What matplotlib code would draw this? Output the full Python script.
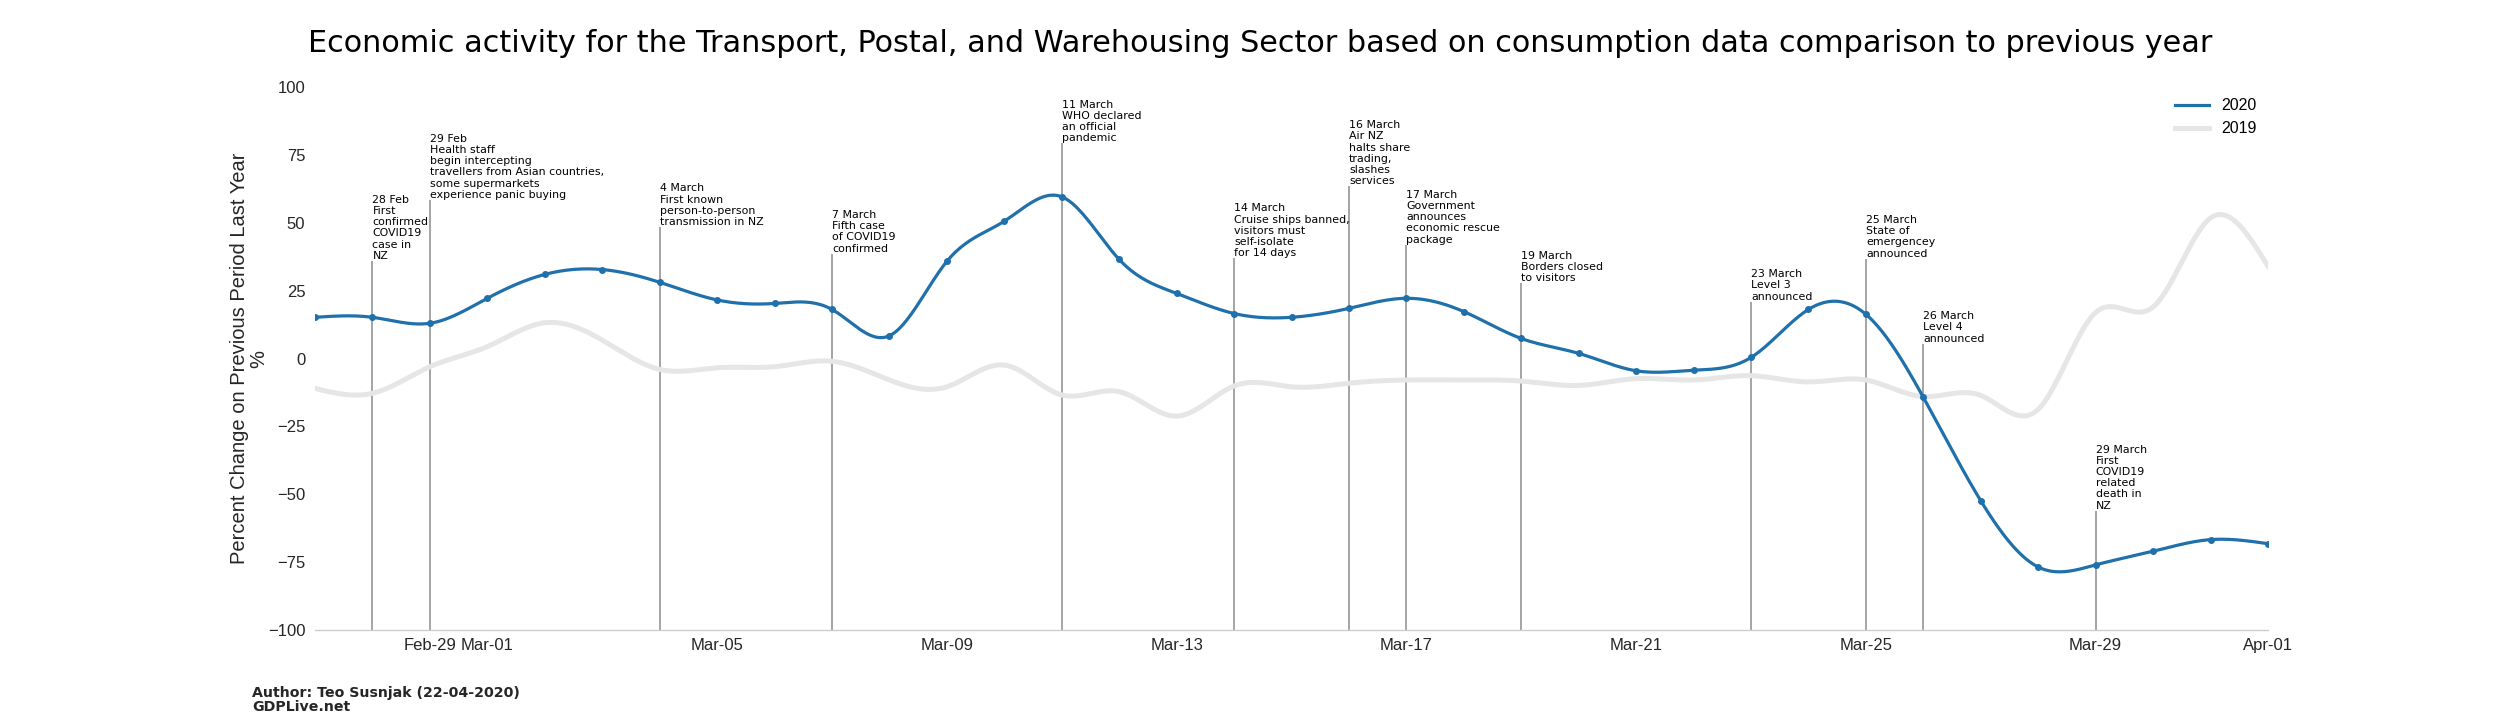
import numpy as np
import pandas as pd
import matplotlib
matplotlib.use("Agg")
import matplotlib.pyplot as plt
import matplotlib.dates as mdates

# daily values (Feb 27 -> Apr 01, 2020)
dates = pd.date_range("2020-02-27", "2020-04-01", freq="D")

values_2020 = [15.2, 15.2, 13.0, 22.2, 31.0, 32.8, 28.1, 21.6, 20.3, 18.1,
               8.4, 35.8, 50.6, 59.6, 36.5, 24.0, 16.6, 15.2, 18.5, 22.2,
               17.3, 7.4, 1.9, -4.5, -4.3, 0.4, 18.1, 16.3, -14.3, -52.4,
               -76.8, -76.0, -71.0, -66.7, -68.2]

values_2019 = [-11.0, -12.8, -3.0, 4.4, 13.2, 6.8, -4.0, -3.4, -3.0, -1.0,
               -7.9, -10.4, -2.4, -13.4, -12.2, -21.2, -10.1, -10.4, -9.1, -7.9,
               -7.9, -8.3, -9.9, -7.4, -7.9, -6.3, -8.6, -7.9, -14.0, -13.6,
               -18.7, 17.0, 19.0, 51.8, 34.0]

# events: date, height where the text sits, text
event_dates = ["2020-02-28", "2020-02-29", "2020-03-04", "2020-03-07", "2020-03-11",
               "2020-03-14", "2020-03-16", "2020-03-17", "2020-03-19", "2020-03-23",
               "2020-03-25", "2020-03-26", "2020-03-29"]
event_heights = [36, 58.5, 48.5, 38.7, 79.3, 37, 63.5, 42, 27.7, 21, 36.8, 5.5, -56]
event_texts = [
    "28 Feb\nFirst\nconfirmed\nCOVID19\ncase in\nNZ",
    "29 Feb\nHealth staff\nbegin intercepting\ntravellers from Asian countries,\nsome supermarkets\nexperience panic buying",
    "4 March\nFirst known\nperson-to-person\ntransmission in NZ",
    "7 March\nFifth case\nof COVID19\nconfirmed",
    "11 March\nWHO declared\nan official\npandemic",
    "14 March\nCruise ships banned,\nvisitors must\nself-isolate\nfor 14 days",
    "16 March\nAir NZ\nhalts share\ntrading,\nslashes\nservices",
    "17 March\nGovernment\nannounces\neconomic rescue\npackage",
    "19 March\nBorders closed\nto visitors",
    "23 March\nLevel 3\nannounced",
    "25 March\nState of\nemergencey\nannounced",
    "26 March\nLevel 4\nannounced",
    "29 March\nFirst\nCOVID19\nrelated\ndeath in\nNZ",
]

BLUE = "#1f70ab"
GREY = "#e6e6e6"
ARIAL = "Liberation Sans"


def smooth(x, y, xs):
    # natural cubic spline, just for drawing the curves
    x = np.asarray(x, float)
    y = np.asarray(y, float)
    n = len(x)
    h = np.diff(x)
    A = np.zeros((n, n))
    r = np.zeros(n)
    A[0, 0] = A[-1, -1] = 1
    for i in range(1, n - 1):
        A[i, i - 1] = h[i - 1]
        A[i, i] = 2 * (h[i - 1] + h[i])
        A[i, i + 1] = h[i]
        r[i] = 3 * ((y[i + 1] - y[i]) / h[i] - (y[i] - y[i - 1]) / h[i - 1])
    c = np.linalg.solve(A, r)
    b = (y[1:] - y[:-1]) / h - h * (2 * c[:-1] + c[1:]) / 3
    d = (c[1:] - c[:-1]) / (3 * h)
    idx = np.clip(np.searchsorted(x, xs) - 1, 0, n - 2)
    dx = xs - x[idx]
    return y[idx] + b[idx] * dx + c[idx] * dx ** 2 + d[idx] * dx ** 3


plt.rcParams["font.family"] = "DejaVu Sans"

fig = plt.figure(figsize=(25.2, 7.2), dpi=100)
ax = fig.add_subplot(111)
fig.subplots_adjust(left=0.125, right=0.9, top=0.879, bottom=0.125)

x = mdates.date2num(dates)
xs = np.linspace(x[0], x[-1], 800)

ax.plot(xs, smooth(x, values_2020, xs), color=BLUE, lw=2.3, label="2020", zorder=4)
ax.plot(x, values_2020, "o", color=BLUE, ms=4, zorder=5)
ax.plot(xs, smooth(x, values_2019, xs), color=GREY, lw=3.6, label="2019", zorder=3)

for d, hgt, txt in zip(event_dates, event_heights, event_texts):
    xd = mdates.date2num(pd.Timestamp(d))
    ax.vlines(xd, -100, hgt, color="#8c8c8c", lw=1.1, zorder=2)
    ax.text(xd, hgt, txt, ha="left", va="bottom", fontsize=7.9, linespacing=1.15)

ax.set_xlim(x[0], x[-1])
ax.set_ylim(-100, 100)
ax.set_yticks(np.arange(-100, 101, 25))
ax.xaxis.set_major_locator(mdates.DayLocator(bymonthday=[1, 5, 9, 13, 17, 21, 25, 29]))
ax.xaxis.set_major_formatter(mdates.DateFormatter("%b-%d"))
ax.tick_params(length=0, labelsize=12, colors="#262626")
ax.tick_params(axis="y", pad=7)
ax.tick_params(axis="x", pad=6)
for lab in ax.get_xticklabels() + ax.get_yticklabels():
    lab.set_fontfamily(ARIAL)

for s in ["top", "right", "left"]:
    ax.spines[s].set_visible(False)
ax.spines["bottom"].set_color("#cccccc")
ax.spines["bottom"].set_linewidth(1)

ax.set_ylabel("Percent Change on Previous Period Last Year\n%", fontsize=14.5,
              family=ARIAL, color="#262626", labelpad=0, linespacing=1.0)
fig.suptitle("Economic activity for the Transport, Postal, and Warehousing Sector based on "
             "consumption data comparison to previous year", fontsize=21.8,
             x=0.5, y=0.94, va="center")

ax.legend(loc="upper right", frameon=False, prop={"family": ARIAL, "size": 11.5},
          handlelength=2.1, borderaxespad=0.3)

fig.text(0.1, 0.047, "Author: Teo Susnjak (22-04-2020)\nGDPLive.net", fontsize=10.2,
         fontweight="bold", va="top", ha="left", color="#262626", linespacing=1.0)

fig.savefig("out.png", dpi=100)
